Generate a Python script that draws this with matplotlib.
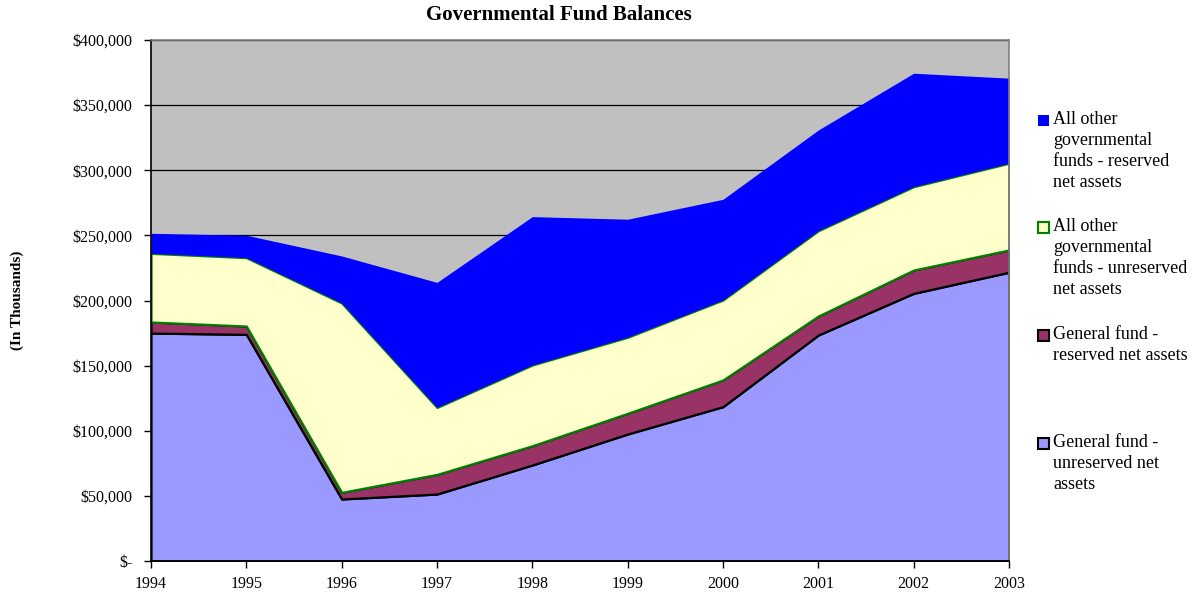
#!/usr/bin/env python3
"""
Purpose: Governmental fund balances, stacked area chart
"""

import matplotlib
matplotlib.use('Agg')
import matplotlib.pyplot as plt
from matplotlib.patches import Rectangle
from matplotlib.ticker import FuncFormatter, MultipleLocator

# --------------------------------------------------
years = [1994, 1995, 1996, 1997, 1998, 1999, 2000, 2001, 2002, 2003]

# values in thousands of dollars
gf_unreserved = [175000, 174000, 47600, 51400, 73700, 97500, 118500, 173500,
                 205500, 221700]
gf_reserved = [8500, 6400, 5100, 15100, 14800, 15900, 20500, 14600, 17900,
               17100]
other_unreserved = [52700, 52500, 145400, 51400, 62000, 58400, 61400, 65500,
                    64000, 66600]
other_reserved = [15400, 17200, 36100, 96000, 113900, 90600, 77300, 77300,
                  87100, 65300]

labels = ['General fund -\nunreserved net\nassets',
          'General fund -\nreserved net assets',
          'All other\ngovernmental\nfunds - unreserved\nnet assets',
          'All other\ngovernmental\nfunds - reserved\nnet assets']
fills = ['#9999FF', '#993366', '#FFFFCC', '#0000FF']
edges = ['black', 'black', 'green', '#0000FF']
widths = [1.6, 1.6, 1.6, 0.0]


# --------------------------------------------------
def money(v, pos):
    """Excel style accounting labels"""
    if v == 0:
        return '$-'
    return '${:,.0f}'.format(v)


# --------------------------------------------------
def main():
    """Draw the chart"""
    plt.rcParams['font.family'] = ['Liberation Serif', 'DejaVu Serif']

    fig = plt.figure(figsize=(11.96, 5.95), dpi=100)
    ax = fig.add_axes([151 / 1196, 34 / 595, 858 / 1196, 521 / 595])
    ax.set_facecolor('#C0C0C0')

    polys = ax.stackplot(years, gf_unreserved, gf_reserved,
                         other_unreserved, other_reserved,
                         colors=fills, zorder=2)
    for poly, ec, lw in zip(polys, edges, widths):
        poly.set_edgecolor(ec)
        poly.set_linewidth(lw)

    ax.set_xlim(years[0], years[-1])
    ax.set_ylim(0, 400000)
    ax.set_xticks(years)
    ax.yaxis.set_major_locator(MultipleLocator(50000))
    ax.yaxis.set_major_formatter(FuncFormatter(money))
    ax.grid(axis='y', color='black', linewidth=0.9, zorder=1)
    ax.set_axisbelow(True)
    ax.tick_params(direction='out', length=5, width=1, labelsize=11.5,
                   color='black')
    ax.tick_params(axis='y', pad=8.5)
    ax.tick_params(axis='x', pad=6)

    for side in ['top', 'right']:
        ax.spines[side].set_color('#808080')
        ax.spines[side].set_linewidth(1.2)
    for side in ['left', 'bottom']:
        ax.spines[side].set_color('black')
        ax.spines[side].set_linewidth(1.2)
    for sp in ax.spines.values():
        sp.set_zorder(3)

    fig.text(559 / 1196, 1 - 15 / 595, 'Governmental Fund Balances',
             ha='center', va='center', fontsize=15, fontweight='bold')
    fig.text(17 / 1196, 1 - 300 / 595, '(In Thousands)', rotation=90,
             ha='center', va='center', fontsize=11, fontweight='bold')

    # legend, top entry first
    tops = [115, 222, 330, 438]
    for i, top in zip([3, 2, 1, 0], tops):
        fig.patches.append(Rectangle(
            (1038 / 1196, 1 - (top + 11) / 595), 11 / 1196, 11 / 595,
            transform=fig.transFigure, facecolor=fills[i],
            edgecolor=edges[i], linewidth=1.5 if widths[i] else 0))
        fig.text(1053 / 1196, 1 - (top - 4) / 595, labels[i],
                 ha='left', va='top', fontsize=13, linespacing=1.32)

    fig.savefig('out.png', dpi=100)


# --------------------------------------------------
if __name__ == '__main__':
    main()
